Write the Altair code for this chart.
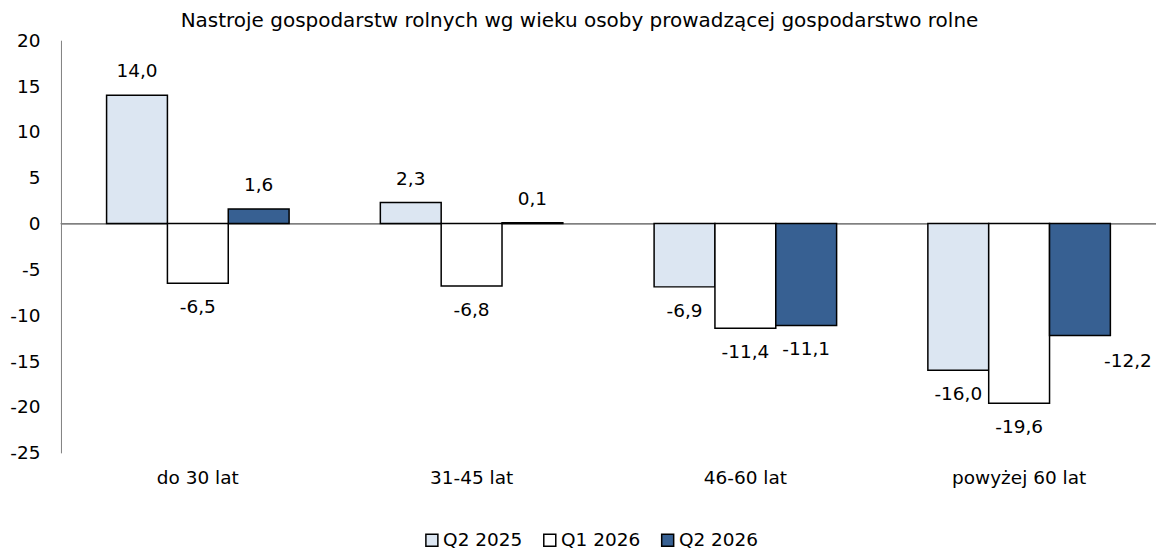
import altair as alt
import pandas as pd

categories = ["do 30 lat", "31-45 lat", "46-60 lat", "powyżej 60 lat"]
series = ["Q2 2025", "Q1 2026", "Q2 2026"]
q2_2025 = [14.0, 2.3, -6.9, -16.0]
q1_2026 = [-6.5, -6.8, -11.4, -19.6]
q2_2026 = [1.6, 0.1, -11.1, -12.2]
colors = ["#DCE6F2", "#FFFFFF", "#376092"]
y_ticks = [-25, -20, -15, -10, -5, 0, 5, 10, 15, 20]
title = "Nastroje gospodarstw rolnych wg wieku osoby prowadzącej gospodarstwo rolne"

rows = []
for s, vals in zip(series, [q2_2025, q1_2026, q2_2026]):
    for c, v in zip(categories, vals):
        rows.append({"kategoria": c, "seria": s, "wartosc": v,
                     "etykieta": f"{v:.1f}".replace(".", ",")})
df = pd.DataFrame(rows)

FONT = "DejaVu Sans"
FS = 18.5

x = alt.X("kategoria:N", sort=categories, title=None,
          scale=alt.Scale(paddingInner=1 / 3, paddingOuter=1 / 6),
          axis=alt.Axis(domain=False, ticks=False, labelAngle=0, labelPadding=16,
                        labelFontSize=FS, labelFont=FONT, labelColor="black"))
xo = alt.XOffset("seria:N", sort=series, scale=alt.Scale(paddingInner=0, paddingOuter=0))
y = alt.Y("wartosc:Q", title=None,
          scale=alt.Scale(domain=[-25, 20], nice=False, zero=False),
          axis=alt.Axis(values=y_ticks, grid=False, ticks=False, domainColor="#808080",
                        labelPadding=21, minExtent=53, maxExtent=53,
                        labelExpr="'' + datum.value",
                        labelFontSize=FS, labelFont=FONT, labelColor="black"))

base = alt.Chart(df)

zero = base.mark_rule(color="#808080", strokeWidth=1).encode(y=alt.datum(0))

bars = base.mark_bar(stroke="black", strokeWidth=1.5).encode(
    x=x, xOffset=xo, y=y,
    color=alt.Color("seria:N", sort=series,
                    scale=alt.Scale(domain=series, range=colors),
                    legend=alt.Legend(orient="none", legendX=362, legendY=491,
                                      direction="horizontal", title=None,
                                      symbolType="square", symbolSize=144,
                                      symbolStrokeColor="black", symbolStrokeWidth=1.5,
                                      symbolOpacity=1,
                                      labelFontSize=FS, labelFont=FONT, labelColor="black",
                                      labelOffset=2, columnPadding=18)),
)

txt_kw = dict(font=FONT, fontSize=FS, color="black", baseline="middle")
enc = dict(x=x, xOffset=xo, y=y, text="etykieta:N")

pos = base.transform_filter("datum.wartosc >= 0").mark_text(dy=-24, **txt_kw).encode(**enc)
neg = base.transform_filter(
    "datum.wartosc < 0 && !(datum.kategoria == 'powyżej 60 lat' && datum.seria == 'Q2 2026')"
).mark_text(dy=24, **txt_kw).encode(**enc)
moved = base.transform_filter(
    "datum.kategoria == 'powyżej 60 lat' && datum.seria == 'Q2 2026'"
).mark_text(dy=26, dx=48, **txt_kw).encode(**enc)

chart = alt.layer(zero, bars, pos, neg, moved).properties(
    width=1096, height=413,
    padding={"left": 0, "right": 0, "top": 3, "bottom": 0},
    title=alt.TitleParams(title, fontSize=20, font=FONT, fontWeight="normal",
                          anchor="middle", offset=0, dx=-29, color="black"),
).configure_view(stroke=None)

chart.save("out.html", embed_options={"renderer": "svg", "actions": False})
